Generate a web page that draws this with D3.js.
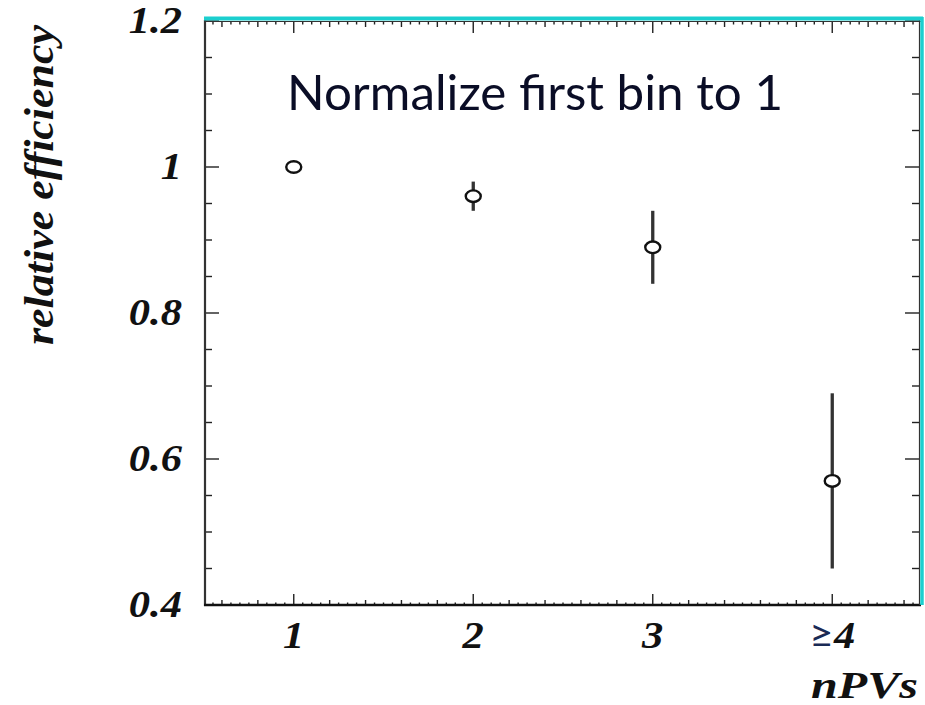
<!DOCTYPE html>
<html>
<head>
<meta charset="utf-8">
<script src="https://cdn.jsdelivr.net/npm/d3@7"></script>
<style>
  html, body { margin: 0; padding: 0; background: #fff; }
  svg { display: block; }
</style>
</head>
<body>
<svg id="chart" width="925" height="705"></svg>
<script>
// nPVs bins and the relative efficiency measured in each (first bin normalised to 1)
const categories = ["1", "2", "3", "\u22654"];
const binCenters = [1, 2, 3, 4];
const efficiency = [1.0, 0.96, 0.89, 0.57];
const efficiencyErr = [0.004, 0.02, 0.05, 0.12];
const yTickValues = [0.4, 0.6, 0.8, 1.0, 1.2];
const yTickLabels = ["0.4", "0.6", "0.8", "1", "1.2"];

const SERIF = "'Liberation Serif', 'Times New Roman', 'DejaVu Serif', serif";
const SANS = "Lato, 'Open Sans', sans-serif";

const svg = d3.select("#chart");
const frame = { left: 205, right: 921, top: 20, bottom: 605 };

const x = d3.scaleLinear().domain([0.5, 4.5]).range([204, 922]);
const y = d3.scaleLinear().domain([0.4, 1.2]).range([605, 21]);

function serifText(sel, size) {
  return sel.attr("font-family", SERIF).attr("font-weight", "bold")
    .attr("font-style", "italic").attr("font-size", size).attr("fill", "#111");
}

// tick positions: major / secondary / tertiary divisions
const xMajor = binCenters;
const xMid = d3.range(0.6, 4.5, 0.2).map(v => +v.toFixed(2)).filter(v => !xMajor.includes(v));
const xSmall = d3.range(0.55, 4.5, 0.05).map(v => +v.toFixed(2)).filter(v => !xMajor.includes(v) && !xMid.some(m => Math.abs(m - v) < 1e-6));
const yMajor = yTickValues;
const yMinor = d3.range(0.45, 1.2, 0.05).map(v => +v.toFixed(2)).filter(v => !yMajor.some(m => Math.abs(m - v) < 1e-6));

const axisColor = "#222";

function hTicks(vals, len, yPos, dir) {
  svg.append("g").selectAll("line").data(vals).join("line")
    .attr("x1", d => x(d)).attr("x2", d => x(d))
    .attr("y1", yPos).attr("y2", yPos + dir * len)
    .attr("stroke", axisColor).attr("stroke-width", 1.4);
}
function vTicks(vals, len, xPos, dir) {
  svg.append("g").selectAll("line").data(vals).join("line")
    .attr("y1", d => y(d)).attr("y2", d => y(d))
    .attr("x1", xPos).attr("x2", xPos + dir * len)
    .attr("stroke", axisColor).attr("stroke-width", 1.4);
}

// bottom & top ticks
hTicks(xMajor, 11, frame.bottom, -1);
hTicks(xMid, 5, frame.bottom, -1);
hTicks(xSmall, 2.5, frame.bottom, -1);
hTicks(xMajor, 11, frame.top + 2, 1);
hTicks(xMid, 5, frame.top + 2, 1);
hTicks(xSmall, 2.5, frame.top + 2, 1);
// left & right ticks
vTicks(yMajor, 14, frame.left, 1);
vTicks(yMinor, 7, frame.left, 1);
vTicks(yMajor, 14, frame.right - 2, -1);
vTicks(yMinor, 7, frame.right - 2, -1);

// frame: dark left/bottom axes, cyan top/right edges
svg.append("line").attr("x1", frame.left).attr("x2", frame.left).attr("y1", frame.top).attr("y2", frame.bottom + 1)
  .attr("stroke", "#333").attr("stroke-width", 2.2);
svg.append("line").attr("x1", frame.left - 1).attr("x2", frame.right).attr("y1", frame.bottom).attr("y2", frame.bottom)
  .attr("stroke", "#111").attr("stroke-width", 2.4);
svg.append("line").attr("x1", frame.left).attr("x2", frame.right).attr("y1", frame.top + 1.5).attr("y2", frame.top + 1.5)
  .attr("stroke", "#333").attr("stroke-width", 1.2);
svg.append("line").attr("x1", frame.right - 1.5).attr("x2", frame.right - 1.5).attr("y1", frame.top).attr("y2", frame.bottom)
  .attr("stroke", "#333").attr("stroke-width", 1.2);
svg.append("line").attr("x1", frame.left - 1).attr("x2", frame.right + 2).attr("y1", frame.top - 1.5).attr("y2", frame.top - 1.5)
  .attr("stroke", "#1ccfcf").attr("stroke-width", 4);
svg.append("line").attr("x1", frame.right + 1).attr("x2", frame.right + 1).attr("y1", frame.top - 3).attr("y2", frame.bottom)
  .attr("stroke", "#1ccfcf").attr("stroke-width", 3.5);

// y tick labels
serifText(svg.append("g").selectAll("text").data(yTickValues).join("text"), 38)
  .attr("transform", d => `translate(182,${y(d) + 12}) scale(1.12,1)`)
  .attr("text-anchor", "end")
  .text((d, i) => yTickLabels[i]);

// x tick labels
const xl = svg.append("g").selectAll("g").data(categories).join("g")
  .attr("transform", (d, i) => `translate(${x(binCenters[i])},648) scale(1.12,1)`);
serifText(xl.append("text"), 38)
  .attr("text-anchor", "middle")
  .each(function(d) {
    const t = d3.select(this);
    if (d.startsWith("\u2265")) {
      t.append("tspan").attr("font-family", SANS)
        .attr("font-style", "normal").attr("font-weight", "normal").attr("fill", "#1a2a55").text("\u2265");
      t.append("tspan").text(d.slice(1));
    } else {
      t.text(d);
    }
  });

// axis titles
serifText(svg.append("text"), 37)
  .attr("transform", "translate(918,698) scale(1.3,1)")
  .attr("text-anchor", "end")
  .text("nPVs");

serifText(svg.append("text"), 42)
  .attr("transform", "translate(53,25) rotate(-90)")
  .attr("text-anchor", "end")
  .attr("textLength", 320)
  .attr("lengthAdjust", "spacingAndGlyphs")
  .text("relative efficiency");

// annotation
svg.append("text")
  .attr("x", 287).attr("y", 110)
  .attr("font-family", SANS)
  .attr("font-size", 48)
  .attr("fill", "#0a0d26")
  .attr("textLength", 496)
  .attr("lengthAdjust", "spacingAndGlyphs")
  .text("Normalize first bin to 1");

// error bars and markers
const pts = categories.map((c, i) => ({ c, x: binCenters[i], v: efficiency[i], e: efficiencyErr[i] }));
svg.append("g").selectAll("line").data(pts).join("line")
  .attr("x1", d => x(d.x)).attr("x2", d => x(d.x))
  .attr("y1", d => y(d.v + d.e)).attr("y2", d => y(d.v - d.e))
  .attr("stroke", "#333").attr("stroke-width", 3.3);
svg.append("g").selectAll("ellipse").data(pts).join("ellipse")
  .attr("cx", d => x(d.x)).attr("cy", d => y(d.v))
  .attr("rx", 7.5).attr("ry", 5.8)
  .attr("fill", "#fff").attr("stroke", "#111").attr("stroke-width", 2.4);
</script>
</body>
</html>
